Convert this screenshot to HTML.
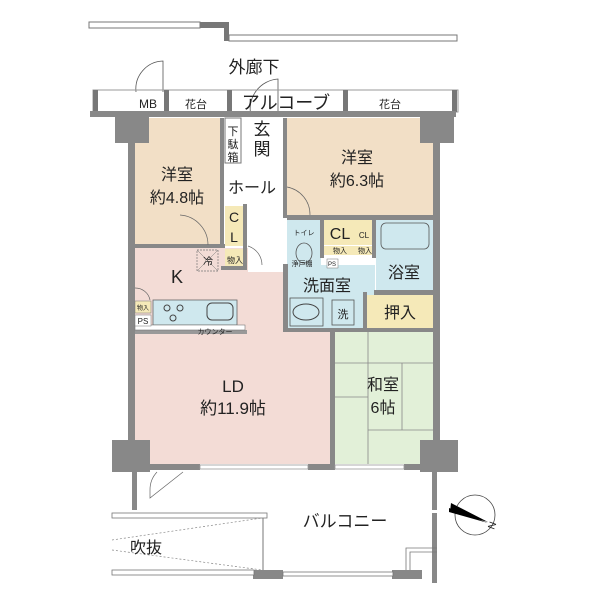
<!DOCTYPE html>
<html><head><meta charset="utf-8"><style>
html,body{margin:0;padding:0;background:#fff;}
svg{display:block}
text{font-family:"Liberation Sans","Noto Sans CJK JP",sans-serif;fill:#222}
</style></head><body>
<svg width="600" height="600" viewBox="0 0 600 600" xmlns="http://www.w3.org/2000/svg">
<rect x="89" y="22" width="111" height="6" fill="#fff" stroke="#777" stroke-width="1"/>
<path d="M200 22 H229 V41 H224 V28 H200Z" fill="#777"/>
<rect x="229" y="35" width="228" height="6" fill="#fff" stroke="#777" stroke-width="1"/>
<text x="254" y="73" font-size="17" text-anchor="middle">外廊下</text>
<path d="M136 92 A28 28 0 0 1 163 61 V92" fill="none" stroke="#555" stroke-width="0.8"/>
<path d="M251 116 A30 30 0 0 1 278 79 V116" fill="none" stroke="#555" stroke-width="0.8"/>
<rect x="93" y="90" width="365" height="22" fill="none" stroke="#999" stroke-width="1"/>
<rect x="93" y="90" width="5" height="22" fill="#777"/>
<rect x="452" y="90" width="5" height="22" fill="#777"/>
<rect x="164" y="90" width="5" height="22" fill="#777"/>
<rect x="227" y="90" width="5" height="22" fill="#777"/>
<rect x="343" y="90" width="5" height="22" fill="#777"/>
<text x="148" y="108" font-size="12" text-anchor="middle">MB</text>
<text x="196" y="108" font-size="11" text-anchor="middle">花台</text>
<text x="286" y="109" font-size="18" text-anchor="middle">アルコーブ</text>
<text x="390" y="108" font-size="11" text-anchor="middle">花台</text>
<rect x="135" y="118" width="85" height="127" fill="#f2dfc6"/>
<rect x="287" y="118" width="146" height="98" fill="#f2dfc6"/>
<rect x="135" y="248" width="113" height="92" fill="#f3dcd6"/>
<rect x="135" y="330" width="198" height="134" fill="#f3dcd6"/>
<rect x="248" y="272" width="38" height="66" fill="#f3dcd6"/>
<rect x="335" y="330" width="98" height="134" fill="#e2f0d8"/>
<rect x="287" y="220" width="34" height="48" fill="#cfe8ee"/>
<rect x="285" y="265" width="90" height="65" fill="#cfe8ee"/>
<rect x="376" y="220" width="57" height="70" fill="#cfe8ee"/>
<rect x="324" y="220" width="48" height="25" fill="#f5e9b8"/>
<rect x="324" y="246" width="48" height="9" fill="#f5e9b8"/>
<rect x="367" y="295" width="66" height="33" fill="#f5e9b8"/>
<rect x="225" y="206" width="19" height="40" fill="#f5e9b8"/>
<rect x="225" y="249" width="20" height="18" fill="#f5e9b8"/>
<rect x="225" y="118" width="16" height="45" fill="#fff" stroke="#777" stroke-width="1"/>
<g fill="#888">
<rect x="128" y="113" width="7" height="340"/>
<rect x="433" y="113" width="7" height="340"/>
<rect x="220" y="118" width="4" height="127"/>
<rect x="283" y="118" width="4" height="100"/>
<rect x="287" y="215" width="146" height="5"/>
<rect x="135" y="244" width="90" height="4"/>
<rect x="243" y="204" width="4" height="64"/>
<rect x="221" y="266" width="26" height="4"/>
<rect x="320" y="218" width="4" height="40"/>
<rect x="372" y="218" width="4" height="40"/>
<rect x="283" y="264" width="5" height="68"/>
<rect x="283" y="328" width="150" height="4"/>
<rect x="330" y="330" width="5" height="134"/>
<rect x="374" y="290" width="59" height="5"/>
<rect x="363" y="292" width="4" height="38"/>
<rect x="135" y="330" width="112" height="4" fill="#999"/>
<rect x="90" y="111" width="366" height="6"/>
<rect x="115" y="113" width="34" height="30"/>
<rect x="420" y="113" width="34" height="30"/>
<rect x="112" y="440" width="38" height="32"/>
<rect x="420" y="440" width="38" height="32"/>
<rect x="150" y="464" width="50" height="6"/>
<rect x="308" y="464" width="27" height="6"/>
<rect x="404" y="464" width="50" height="6"/>
<rect x="132" y="470" width="5" height="40"/>
<rect x="432" y="470" width="5" height="40"/>
<rect x="432" y="513" width="5" height="70"/>
<rect x="253" y="570" width="30" height="9"/>
<rect x="392" y="570" width="30" height="9"/>
</g>
<rect x="200" y="465" width="108" height="4" fill="#fff" stroke="#999" stroke-width="0.8"/>
<rect x="335" y="465" width="69" height="4" fill="#fff" stroke="#999" stroke-width="0.8"/>
<g stroke="#888" stroke-width="0.8" fill="none">
<line x1="335" y1="363" x2="433" y2="363"/>
<line x1="368" y1="330" x2="368" y2="464"/>
<line x1="402" y1="363" x2="402" y2="430"/>
<line x1="335" y1="397" x2="368" y2="397"/>
<line x1="368" y1="430" x2="433" y2="430"/>
</g>
<rect x="153" y="300" width="84" height="25" fill="#cfe8ee" stroke="#666" stroke-width="0.8"/>
<rect x="135" y="325" width="110" height="5" fill="#fff" stroke="#777" stroke-width="0.6"/>
<text x="215" y="334" font-size="7" text-anchor="middle">カウンター</text>
<circle cx="167" cy="308" r="3" fill="none" stroke="#444"/><circle cx="180" cy="308" r="3" fill="none" stroke="#444"/><circle cx="173" cy="318" r="3" fill="none" stroke="#444"/>
<rect x="207" y="303" width="26" height="17" rx="5" fill="none" stroke="#444"/>
<rect x="135" y="301" width="16" height="12" fill="#f5e9b8" stroke="#777" stroke-width="0.5"/>
<rect x="135" y="315" width="16" height="11" fill="#fff" stroke="#777" stroke-width="0.5"/>
<text x="143" y="310" font-size="6" text-anchor="middle">物入</text>
<text x="143" y="324" font-size="8" text-anchor="middle">PS</text>
<rect x="197" y="250" width="21" height="21" fill="#f3dcd6" stroke="#777" stroke-dasharray="2 1" stroke-width="0.7"/>
<line x1="197" y1="250" x2="218" y2="271" stroke="#777" stroke-width="0.5"/><line x1="218" y1="250" x2="197" y2="271" stroke="#777" stroke-width="0.5"/>
<text x="208" y="265" font-size="10" text-anchor="middle">冷</text>
<rect x="381" y="223" width="48" height="26" rx="5" fill="#cfe8ee" stroke="#555" stroke-width="0.8"/>
<rect x="290" y="298" width="33" height="28" fill="#cfe8ee" stroke="#555" stroke-width="0.8"/>
<ellipse cx="306" cy="312" rx="13" ry="8" fill="none" stroke="#444"/>
<rect x="332" y="300" width="22" height="25" fill="#cfe8ee" stroke="#555" stroke-width="0.8"/>
<text x="343" y="318" font-size="11" text-anchor="middle">洗</text>
<ellipse cx="304" cy="253" rx="8" ry="10" fill="none" stroke="#555" stroke-width="0.8"/>
<rect x="327" y="259" width="11" height="9" fill="#fff" stroke="#777" stroke-width="0.5"/>
<text x="332" y="266" font-size="6" text-anchor="middle">PS</text>
<g fill="none" stroke="#666" stroke-width="0.7">
<path d="M208 245 A30 30 0 0 0 180 215"/>
<path d="M287 187 A28 28 0 0 1 310 215"/>
<path d="M135 288 A15 15 0 0 1 150 300"/>
<path d="M157 472 A26 26 0 0 0 150 490 V498 L183 472"/>
<path d="M248 246 A20 20 0 0 1 262 265"/>
</g>
<text x="177" y="180" font-size="16" text-anchor="middle">洋室</text>
<text x="177" y="203" font-size="16" text-anchor="middle">約4.8帖</text>
<text x="357" y="163" font-size="16" text-anchor="middle">洋室</text>
<text x="357" y="186" font-size="16" text-anchor="middle">約6.3帖</text>
<text x="233" y="135" font-size="11" text-anchor="middle">下</text>
<text x="233" y="148" font-size="11" text-anchor="middle">駄</text>
<text x="233" y="161" font-size="11" text-anchor="middle">箱</text>
<text x="262" y="135" font-size="17" text-anchor="middle">玄</text>
<text x="262" y="155" font-size="17" text-anchor="middle">関</text>
<text x="252" y="193" font-size="16" text-anchor="middle">ホール</text>
<text x="234" y="222" font-size="14" text-anchor="middle">C</text>
<text x="234" y="242" font-size="14" text-anchor="middle">L</text>
<text x="235" y="263" font-size="8" text-anchor="middle">物入</text>
<text x="177" y="283" font-size="18" text-anchor="middle">K</text>
<text x="304" y="235" font-size="7" text-anchor="middle">トイレ</text>
<text x="302" y="266" font-size="7" text-anchor="middle">浄戸棚</text>
<text x="340" y="239" font-size="16" text-anchor="middle">CL</text>
<text x="364" y="238" font-size="8" text-anchor="middle">CL</text>
<text x="340" y="253" font-size="7" text-anchor="middle">物入</text>
<text x="365" y="253" font-size="7" text-anchor="middle">物入</text>
<text x="404" y="278" font-size="16" text-anchor="middle">浴室</text>
<text x="327" y="291" font-size="16" text-anchor="middle">洗面室</text>
<text x="400" y="318" font-size="16" text-anchor="middle">押入</text>
<text x="233" y="392" font-size="17" text-anchor="middle">LD</text>
<text x="233" y="414" font-size="17" text-anchor="middle">約11.9帖</text>
<text x="383" y="390" font-size="16" text-anchor="middle">和室</text>
<text x="383" y="413" font-size="16" text-anchor="middle">6帖</text>
<rect x="112" y="513" width="155" height="5" fill="#fff" stroke="#777" stroke-width="0.8"/>
<rect x="112" y="570" width="142" height="5" fill="#fff" stroke="#777" stroke-width="0.8"/>
<rect x="283" y="572" width="110" height="4" fill="#fff" stroke="#777" stroke-width="0.8"/>
<line x1="263" y1="518" x2="263" y2="570" stroke="#777"/>
<line x1="112" y1="540" x2="262" y2="518" stroke="#888" stroke-dasharray="2 2" stroke-width="0.7"/>
<line x1="112" y1="550" x2="262" y2="570" stroke="#888" stroke-dasharray="2 2" stroke-width="0.7"/>
<path d="M406 570 V548 H437 M410 570 V552 H437" fill="none" stroke="#777" stroke-width="0.8"/>
<text x="345" y="527" font-size="17" text-anchor="middle">バルコニー</text>
<text x="146" y="553" font-size="16" text-anchor="middle">吹抜</text>
<circle cx="475" cy="515" r="20" fill="#fff" stroke="#444" stroke-width="0.8"/>
<path d="M449 508 L488 523 L449 512Z" fill="#000"/>
<path d="M451 503 L488 522 L450 512Z" fill="#000"/>
<text x="494" y="530" font-size="10" transform="rotate(-70 494 530)">N</text>
</svg>
</body></html>
